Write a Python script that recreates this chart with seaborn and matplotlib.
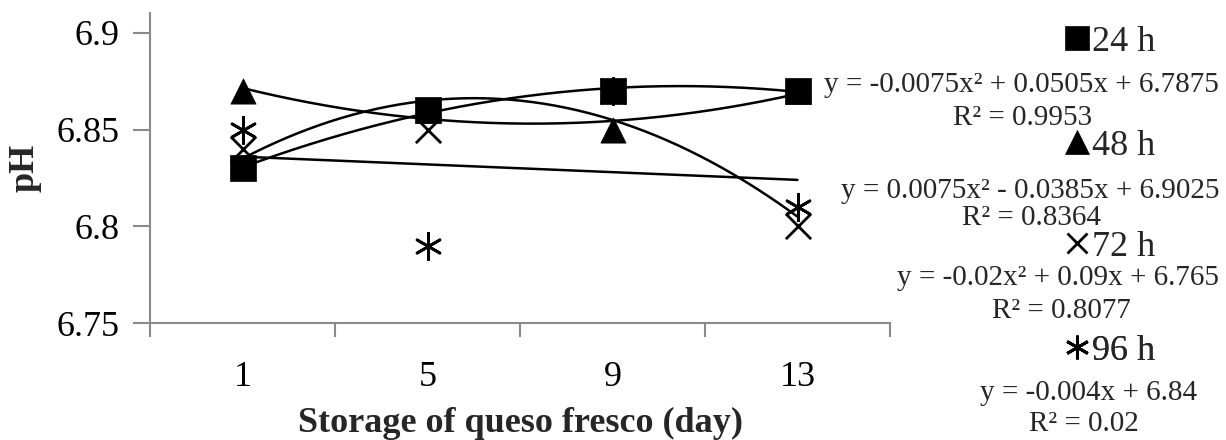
import numpy as np
import pandas as pd
import matplotlib
matplotlib.use("Agg")
import matplotlib.pyplot as plt
import seaborn as sns
from matplotlib.lines import Line2D

# ---------------- data ----------------
days = ["1", "5", "9", "13"]
series_names = ["24 h", "48 h", "72 h", "96 h"]
ph_24h = [6.83, 6.86, 6.87, 6.87]
ph_48h = [6.87, 6.86, 6.85, 6.87]
ph_72h = [6.84, 6.85, 6.87, 6.80]
ph_96h = [6.85, 6.79, 6.87, 6.81]
fit_degree = [2, 2, 2, 1]
equations = [
    "y = -0.0075x\u00b2 + 0.0505x + 6.7875",
    "y = 0.0075x\u00b2 - 0.0385x + 6.9025",
    "y = -0.02x\u00b2 + 0.09x + 6.765",
    "y = -0.004x + 6.84",
]
r2_labels = ["R\u00b2 = 0.9953", "R\u00b2 = 0.8364", "R\u00b2 = 0.8077", "R\u00b2 = 0.02"]
y_ticks = [6.75, 6.80, 6.85, 6.90]
y_tick_labels = ["6.75", "6.8", "6.85", "6.9"]
x_label = "Storage of queso fresco (day)"
y_label = "pH"

# ---------------- style ----------------
sns.set_style("white")
plt.rcParams["font.family"] = ["Liberation Serif", "DejaVu Serif"]
W, H = 1226, 440
fig = plt.figure(figsize=(W / 100, H / 100), dpi=100)
ax = fig.add_axes([150 / W, 1 - 323 / H, 740 / W, 310 / H])

marker_styles = ["s", "^", "x", (6, 2, 0)]
marker_sizes = [330, 330, 330, 360]
spine_color = "#8a8a8a"

all_vals = [ph_24h, ph_48h, ph_72h, ph_96h]
pos = np.arange(1, len(days) + 1)

# trend lines
for vals, deg in zip(all_vals, fit_degree):
    coeffs = np.polyfit(pos, vals, deg)
    xs = np.linspace(pos[0], pos[-1], 200)
    sns.lineplot(x=xs, y=np.polyval(coeffs, xs), color="black", lw=1.8,
                 ax=ax, estimator=None, sort=False, legend=False, zorder=2)

# data points (draw later series first so squares sit on top)
for name, vals, m, s in reversed(list(zip(series_names, all_vals, marker_styles, marker_sizes))):
    df = pd.DataFrame({"pos": pos, "pH": vals})
    kw = dict(marker=m, s=s, color="black", ax=ax, legend=False, zorder=3)
    if m in ("x",) or isinstance(m, tuple):
        kw["linewidth"] = 2.0
    else:
        kw["edgecolor"] = "black"
        kw["linewidth"] = 0.5
    sns.scatterplot(data=df, x="pos", y="pH", **kw)

# axes
ax.set_xlim(0.5, len(days) + 0.5)
ax.set_ylim(6.75, 6.9103)
ax.set_xticks(pos, labels=days)
ax.set_xticks(np.arange(0.5, len(days) + 1, 1.0), minor=True)
ax.tick_params(axis="x", which="major", bottom=True, length=0, pad=27, labelsize=26,
               colors="black")
ax.tick_params(axis="x", which="minor", bottom=True, length=10, width=1.5,
               color=spine_color, direction="out")
ax.set_yticks(y_ticks, labels=y_tick_labels)
ax.tick_params(axis="y", which="major", left=True, length=12, width=1.5, color=spine_color,
               direction="out", pad=10, labelsize=26, labelcolor="black")
for side in ["top", "right"]:
    ax.spines[side].set_visible(False)
for side in ["left", "bottom"]:
    ax.spines[side].set_color(spine_color)
    ax.spines[side].set_linewidth(1.5)

ax.set_xlabel(x_label, fontsize=26, fontweight="bold", labelpad=10)
ax.set_ylabel(y_label, fontsize=26, fontweight="bold")
ax.yaxis.set_label_coords(-0.146, 0.5)
ax.grid(False)

# legend entries interleaved with trendline equations
legend_baselines = [53, 157, 258, 362]
eq_pos = [(1021, 92), (1030, 198), (1058, 285), (1089, 400)]
r2_pos = [(1023, 125), (1031, 225), (1061, 318), (1084, 431)]
legend_ms = [17, 17, 15, 17]
for i, (name, m) in enumerate(zip(series_names, marker_styles)):
    h = Line2D([], [], marker=m, ls="none", color="black", markersize=legend_ms[i],
               markeredgewidth=2.0 if (m == "x" or isinstance(m, tuple)) else 0.5)
    leg = ax.legend(handles=[h], labels=[name], loc="lower left",
                    bbox_to_anchor=(1064 / W, 1 - (legend_baselines[i] + 6) / H),
                    bbox_transform=fig.transFigure, frameon=False, borderpad=0,
                    borderaxespad=0, handletextpad=0.06, handlelength=0.72,
                    prop={"size": 26, "family": ["Liberation Serif"]})
    ax.add_artist(leg)
    fig.text(eq_pos[i][0] / W, 1 - eq_pos[i][1] / H, equations[i], ha="center",
             va="baseline", fontsize=21)
    fig.text(r2_pos[i][0] / W, 1 - r2_pos[i][1] / H, r2_labels[i], ha="center",
             va="baseline", fontsize=21)

fig.savefig("out.png", dpi=100)
